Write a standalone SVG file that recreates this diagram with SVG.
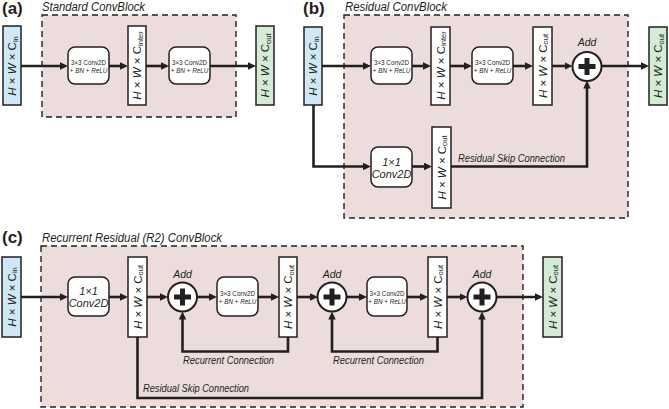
<svg xmlns="http://www.w3.org/2000/svg" width="669" height="409" viewBox="0 0 669 409">
<style>
.bg{fill:#ffffff}
.panel{fill:#ecdddc;stroke:#231f20;stroke-width:1.4;stroke-dasharray:6,4}
.tin{fill:#cfe8f6;stroke:#231f20;stroke-width:1.5}
.tout{fill:#d4ebd6;stroke:#231f20;stroke-width:1.5}
.tmid{fill:#ffffff;stroke:#231f20;stroke-width:1.5}
.conv{fill:#ffffff;stroke:#231f20;stroke-width:1.5}
.add{fill:#ffffff;stroke:#231f20;stroke-width:2}
.plus{fill:none;stroke:#231f20;stroke-width:5}
.ln{fill:none;stroke:#231f20;stroke-width:2.6}
.lbl{font-family:"Liberation Sans",Arial,sans-serif;font-weight:bold;font-size:17px;fill:#231f20}
.ttl{font-family:"Liberation Sans",Arial,sans-serif;font-style:italic;font-size:12px;fill:#231f20}
.ten{font-family:"Liberation Sans",Arial,sans-serif;font-size:11.5px;fill:#231f20;text-anchor:middle}
.it{font-style:italic}
.sub{font-size:7.5px}
.cv{font-family:"Liberation Sans",Arial,sans-serif;font-size:6.3px;fill:#231f20;text-anchor:middle}
.c1{font-family:"Liberation Sans",Arial,sans-serif;font-style:italic;font-size:11px;fill:#231f20;text-anchor:middle}
.addt{font-family:"Liberation Sans",Arial,sans-serif;font-style:italic;font-size:10.5px;fill:#231f20;text-anchor:middle}
.cap{font-family:"Liberation Sans",Arial,sans-serif;font-style:italic;font-size:10.5px;fill:#231f20}
</style>
<defs>
<marker id="ah" markerUnits="userSpaceOnUse" markerWidth="9" markerHeight="8" refX="2" refY="3.75" orient="auto">
<path d="M0,0 L8,3.75 L0,7.5 z" fill="#231f20"/>
</marker>
</defs>
<rect class="bg" x="0" y="0" width="669" height="409"/>

<g id="panel-a">
<rect class="panel" x="42" y="15" width="194" height="102"/>
<text class="lbl" x="2" y="14">(a)</text>
<text class="ttl" x="42" y="11" textLength="103" lengthAdjust="spacingAndGlyphs">Standard ConvBlock</text>
</g>
<g id="panel-b">
<rect class="panel" x="344" y="15" width="284" height="203"/>
<text class="lbl" x="303" y="14">(b)</text>
<text class="ttl" x="345" y="11" textLength="102" lengthAdjust="spacingAndGlyphs">Residual ConvBlock</text>
</g>
<g id="panel-c">
<rect class="panel" x="41" y="246" width="482" height="161"/>
<text class="lbl" x="2" y="243">(c)</text>
<text class="ttl" x="42" y="242" textLength="180" lengthAdjust="spacingAndGlyphs">Recurrent Residual (R2) ConvBlock</text>
</g>

<g id="connectors">
<path class="ln" marker-end="url(#ah)" d="M21,66 H62"/>
<path class="ln" marker-end="url(#ah)" d="M109,66 H122"/>
<path class="ln" marker-end="url(#ah)" d="M146,66 H163"/>
<path class="ln" marker-end="url(#ah)" d="M210,66 H250"/>

<path class="ln" marker-end="url(#ah)" d="M322,66 H365"/>
<path class="ln" marker-end="url(#ah)" d="M412,66 H425"/>
<path class="ln" marker-end="url(#ah)" d="M450,66 H466"/>
<path class="ln" marker-end="url(#ah)" d="M552,66 H566.5"/>
<path class="ln" marker-end="url(#ah)" d="M513,66 H527"/>
<path class="ln" marker-end="url(#ah)" d="M601.5,66 H643"/>
<path class="ln" marker-end="url(#ah)" d="M313.5,105 V166.5 H365"/>
<path class="ln" marker-end="url(#ah)" d="M412,166.5 H426"/>
<path class="ln" marker-end="url(#ah)" d="M451,166.5 H587 V86.5"/>

<path class="ln" marker-end="url(#ah)" d="M21,297 H62"/>
<path class="ln" marker-end="url(#ah)" d="M109,297 H122"/>
<path class="ln" marker-end="url(#ah)" d="M147,297 H162"/>
<path class="ln" marker-end="url(#ah)" d="M197,297 H211"/>
<path class="ln" marker-end="url(#ah)" d="M258,297 H273"/>
<path class="ln" marker-end="url(#ah)" d="M297,297 H312"/>
<path class="ln" marker-end="url(#ah)" d="M346.5,297 H361"/>
<path class="ln" marker-end="url(#ah)" d="M407,297 H422"/>
<path class="ln" marker-end="url(#ah)" d="M447,297 H461.5"/>
<path class="ln" marker-end="url(#ah)" d="M496.5,297 H537"/>
<path class="ln" marker-end="url(#ah)" d="M288,337 V351.5 H182.5 V317.5"/>
<path class="ln" marker-end="url(#ah)" d="M437.5,337 V351.5 H332 V317.5"/>
<path class="ln" marker-end="url(#ah)" d="M137.5,337 V398 H482 V317.5"/>

<text class="cap" x="458" y="162" textLength="107" lengthAdjust="spacingAndGlyphs">Residual Skip Connection</text>
<text class="cap" x="183" y="364" textLength="91" lengthAdjust="spacingAndGlyphs">Recurrent Connection</text>
<text class="cap" x="333" y="364" textLength="91" lengthAdjust="spacingAndGlyphs">Recurrent Connection</text>
<text class="cap" x="143" y="392" textLength="106" lengthAdjust="spacingAndGlyphs">Residual Skip Connection</text>
</g>

<g id="a-in">
<rect class="tin" x="3" y="26" width="18" height="79"/>
<text class="ten" transform="translate(12,66) rotate(-90)" y="4.1"><tspan class="it">H</tspan> × <tspan class="it">W</tspan> × C<tspan class="sub" dy="1.5">in</tspan></text>
</g>
<g id="a-conv1">
<rect class="conv" x="68" y="47" width="41" height="37" rx="7"/>
<text class="cv" x="88.5" y="64.5">3×3 Conv2D</text>
<text class="cv" x="88.5" y="72.5">+ <tspan class="it">BN</tspan> + <tspan class="it">ReLU</tspan></text>
</g>
<g id="a-inter">
<rect class="tmid" x="128" y="26" width="18" height="79"/>
<text class="ten" transform="translate(137,65.5) rotate(-90)" y="4.1"><tspan class="it">H</tspan> × <tspan class="it">W</tspan> × C<tspan class="sub" dy="1.5">inter</tspan></text>
</g>
<g id="a-conv2">
<rect class="conv" x="169" y="47" width="41" height="37" rx="7"/>
<text class="cv" x="189.5" y="64.5">3×3 Conv2D</text>
<text class="cv" x="189.5" y="72.5">+ <tspan class="it">BN</tspan> + <tspan class="it">ReLU</tspan></text>
</g>
<g id="a-out">
<rect class="tout" x="256" y="26" width="18" height="79"/>
<text class="ten" transform="translate(265,65.5) rotate(-90)" y="4.1"><tspan class="it">H</tspan> × <tspan class="it">W</tspan> × C<tspan class="sub" dy="1.5">out</tspan></text>
</g>

<g id="b-in">
<rect class="tin" x="304" y="27" width="18" height="78"/>
<text class="ten" transform="translate(313,66) rotate(-90)" y="4.1"><tspan class="it">H</tspan> × <tspan class="it">W</tspan> × C<tspan class="sub" dy="1.5">in</tspan></text>
</g>
<g id="b-conv1">
<rect class="conv" x="371" y="47" width="41" height="37" rx="7"/>
<text class="cv" x="391.5" y="64.5">3×3 Conv2D</text>
<text class="cv" x="391.5" y="72.5">+ <tspan class="it">BN</tspan> + <tspan class="it">ReLU</tspan></text>
</g>
<g id="b-inter">
<rect class="tmid" x="431" y="27" width="19" height="78"/>
<text class="ten" transform="translate(440.5,65.5) rotate(-90)" y="4.1"><tspan class="it">H</tspan> × <tspan class="it">W</tspan> × C<tspan class="sub" dy="1.5">inter</tspan></text>
</g>
<g id="b-conv2">
<rect class="conv" x="472" y="47" width="41" height="37" rx="7"/>
<text class="cv" x="492.5" y="64.5">3×3 Conv2D</text>
<text class="cv" x="492.5" y="72.5">+ <tspan class="it">BN</tspan> + <tspan class="it">ReLU</tspan></text>
</g>
<g id="b-mid">
<rect class="tmid" x="533" y="27" width="19" height="78"/>
<text class="ten" transform="translate(542.5,66) rotate(-90)" y="4.1"><tspan class="it">H</tspan> × <tspan class="it">W</tspan> × C<tspan class="sub" dy="1.5">out</tspan></text>
</g>
<g id="b-add">
<text class="addt" x="587" y="46">Add</text>
<circle class="add" cx="587" cy="66.5" r="14.5"/>
<path class="plus" d="M578.5,66.5 H595.5 M587,58 V75"/>
</g>
<g id="b-out">
<rect class="tout" x="649" y="27" width="18" height="78"/>
<text class="ten" transform="translate(658,66) rotate(-90)" y="4.1"><tspan class="it">H</tspan> × <tspan class="it">W</tspan> × C<tspan class="sub" dy="1.5">out</tspan></text>
</g>
<g id="b-conv1x1">
<rect class="conv" x="371" y="147" width="41" height="40" rx="7"/>
<text class="c1" x="391.5" y="165.5">1×1</text>
<text class="c1" x="391.5" y="177.5">Conv2D</text>
</g>
<g id="b-skip">
<rect class="tmid" x="432" y="127" width="19" height="81"/>
<text class="ten" transform="translate(441.5,167.5) rotate(-90)" y="4.1"><tspan class="it">H</tspan> × <tspan class="it">W</tspan> × C<tspan class="sub" dy="1.5">out</tspan></text>
</g>

<g id="c-in">
<rect class="tin" x="2" y="257" width="19" height="80"/>
<text class="ten" transform="translate(11.5,297) rotate(-90)" y="4.1"><tspan class="it">H</tspan> × <tspan class="it">W</tspan> × C<tspan class="sub" dy="1.5">in</tspan></text>
</g>
<g id="c-conv1x1">
<rect class="conv" x="68" y="277" width="41" height="39" rx="7"/>
<text class="c1" x="88.5" y="295">1×1</text>
<text class="c1" x="88.5" y="307">Conv2D</text>
</g>
<g id="c-mid1">
<rect class="tmid" x="128" y="257" width="19" height="80"/>
<text class="ten" transform="translate(137.5,297) rotate(-90)" y="4.1"><tspan class="it">H</tspan> × <tspan class="it">W</tspan> × C<tspan class="sub" dy="1.5">out</tspan></text>
</g>
<g id="c-add1">
<text class="addt" x="182.5" y="278">Add</text>
<circle class="add" cx="182.5" cy="297" r="14.5"/>
<path class="plus" d="M174,297 H191 M182.5,288.5 V305.5"/>
</g>
<g id="c-conv1">
<rect class="conv" x="217" y="277" width="41" height="39" rx="7"/>
<text class="cv" x="237.5" y="295.5">3×3 Conv2D</text>
<text class="cv" x="237.5" y="303.5">+ <tspan class="it">BN</tspan> + <tspan class="it">ReLU</tspan></text>
</g>
<g id="c-mid2">
<rect class="tmid" x="279" y="257" width="18" height="80"/>
<text class="ten" transform="translate(288,297) rotate(-90)" y="4.1"><tspan class="it">H</tspan> × <tspan class="it">W</tspan> × C<tspan class="sub" dy="1.5">out</tspan></text>
</g>
<g id="c-add2">
<text class="addt" x="332" y="278">Add</text>
<circle class="add" cx="332" cy="297" r="14.5"/>
<path class="plus" d="M323.5,297 H340.5 M332,288.5 V305.5"/>
</g>
<g id="c-conv2">
<rect class="conv" x="367" y="277" width="40" height="39" rx="7"/>
<text class="cv" x="387" y="295.5">3×3 Conv2D</text>
<text class="cv" x="387" y="303.5">+ <tspan class="it">BN</tspan> + <tspan class="it">ReLU</tspan></text>
</g>
<g id="c-mid3">
<rect class="tmid" x="428" y="257" width="19" height="80"/>
<text class="ten" transform="translate(437.5,297) rotate(-90)" y="4.1"><tspan class="it">H</tspan> × <tspan class="it">W</tspan> × C<tspan class="sub" dy="1.5">out</tspan></text>
</g>
<g id="c-add3">
<text class="addt" x="482" y="278">Add</text>
<circle class="add" cx="482" cy="297" r="14.5"/>
<path class="plus" d="M473.5,297 H490.5 M482,288.5 V305.5"/>
</g>
<g id="c-out">
<rect class="tout" x="543" y="257" width="19" height="80"/>
<text class="ten" transform="translate(552.5,297) rotate(-90)" y="4.1"><tspan class="it">H</tspan> × <tspan class="it">W</tspan> × C<tspan class="sub" dy="1.5">out</tspan></text>
</g>
</svg>
